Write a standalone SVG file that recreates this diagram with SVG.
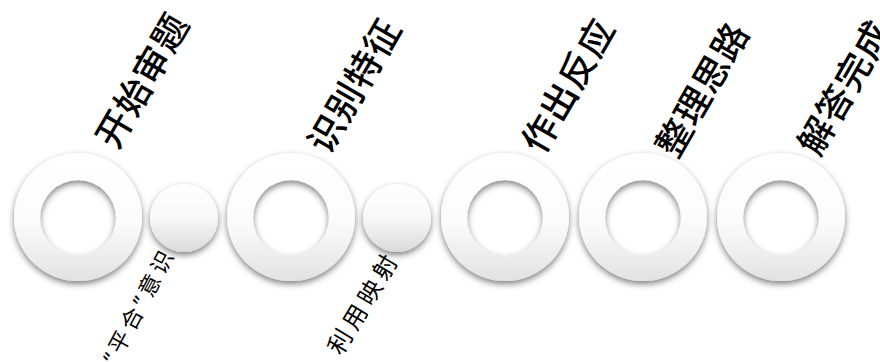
<svg xmlns="http://www.w3.org/2000/svg" width="880" height="362" viewBox="0 0 880 362">
<style>
.ring{fill:url(#gRing);fill-rule:evenodd;filter:url(#sh)}
.dot{fill:url(#gDot);filter:url(#sh)}
.big{font-family:"Noto Sans CJK SC","Noto Sans",sans-serif;font-size:36px;font-weight:500;fill:#000;text-anchor:middle;dominant-baseline:central;letter-spacing:1px}
.small{font-family:"Noto Sans","Noto Sans CJK SC",sans-serif;fill:#000;text-anchor:middle;dominant-baseline:central}
.s1{font-size:22px;letter-spacing:4px}
.s2{font-size:24px;letter-spacing:5px}
</style>
<defs>
<linearGradient id="gRing" x1="0" y1="0" x2="0" y2="1">
<stop offset="0" stop-color="#ffffff"/>
<stop offset="0.55" stop-color="#fbfbfb"/>
<stop offset="1" stop-color="#e2e2e2"/>
</linearGradient>
<linearGradient id="gDot" x1="0" y1="0" x2="0" y2="1">
<stop offset="0" stop-color="#ffffff"/>
<stop offset="0.5" stop-color="#f8f8f8"/>
<stop offset="1" stop-color="#dadada"/>
</linearGradient>
<filter id="sh" x="-30%" y="-30%" width="160%" height="160%">
<feDropShadow dx="0" dy="3" stdDeviation="3" flood-color="#000" flood-opacity="0.5"/>
</filter>
</defs>
<g id="connectors"/>
<g id="n1">
<path class="ring" d="M14,217a64,64 0 1,0 128,0a64,64 0 1,0 -128,0ZM40,218a38,38 0 1,0 76,0a38,38 0 1,0 -76,0Z"/>
<text class="big" transform="translate(140,79) rotate(-60)">开始审题</text>
</g>
<g id="n2">
<circle class="dot" cx="184" cy="218" r="34"/>
<text class="small s1" transform="translate(138,305) rotate(-62)">“平合”意识</text>
</g>
<g id="n3">
<path class="ring" d="M227,217a64,64 0 1,0 128,0a64,64 0 1,0 -128,0ZM253,218a38,38 0 1,0 76,0a38,38 0 1,0 -76,0Z"/>
<text class="big" transform="translate(352,84) rotate(-60)">识别特征</text>
</g>
<g id="n4">
<circle class="dot" cx="397" cy="218" r="34"/>
<text class="small s2" transform="translate(363,302) rotate(-59)">利用映射</text>
</g>
<g id="n5">
<path class="ring" d="M441,217a64,64 0 1,0 128,0a64,64 0 1,0 -128,0ZM467,218a38,38 0 1,0 76,0a38,38 0 1,0 -76,0Z"/>
<text class="big" transform="translate(566,84) rotate(-60)">作出反应</text>
</g>
<g id="n6">
<path class="ring" d="M579,217a64,64 0 1,0 128,0a64,64 0 1,0 -128,0ZM605,218a38,38 0 1,0 76,0a38,38 0 1,0 -76,0Z"/>
<text class="big" transform="translate(700,88) rotate(-60)">整理思路</text>
</g>
<g id="n7">
<path class="ring" d="M717,217a64,64 0 1,0 128,0a64,64 0 1,0 -128,0ZM743,218a38,38 0 1,0 76,0a38,38 0 1,0 -76,0Z"/>
<text class="big" transform="translate(842,86) rotate(-60)">解答完成</text>
</g>
</svg>
